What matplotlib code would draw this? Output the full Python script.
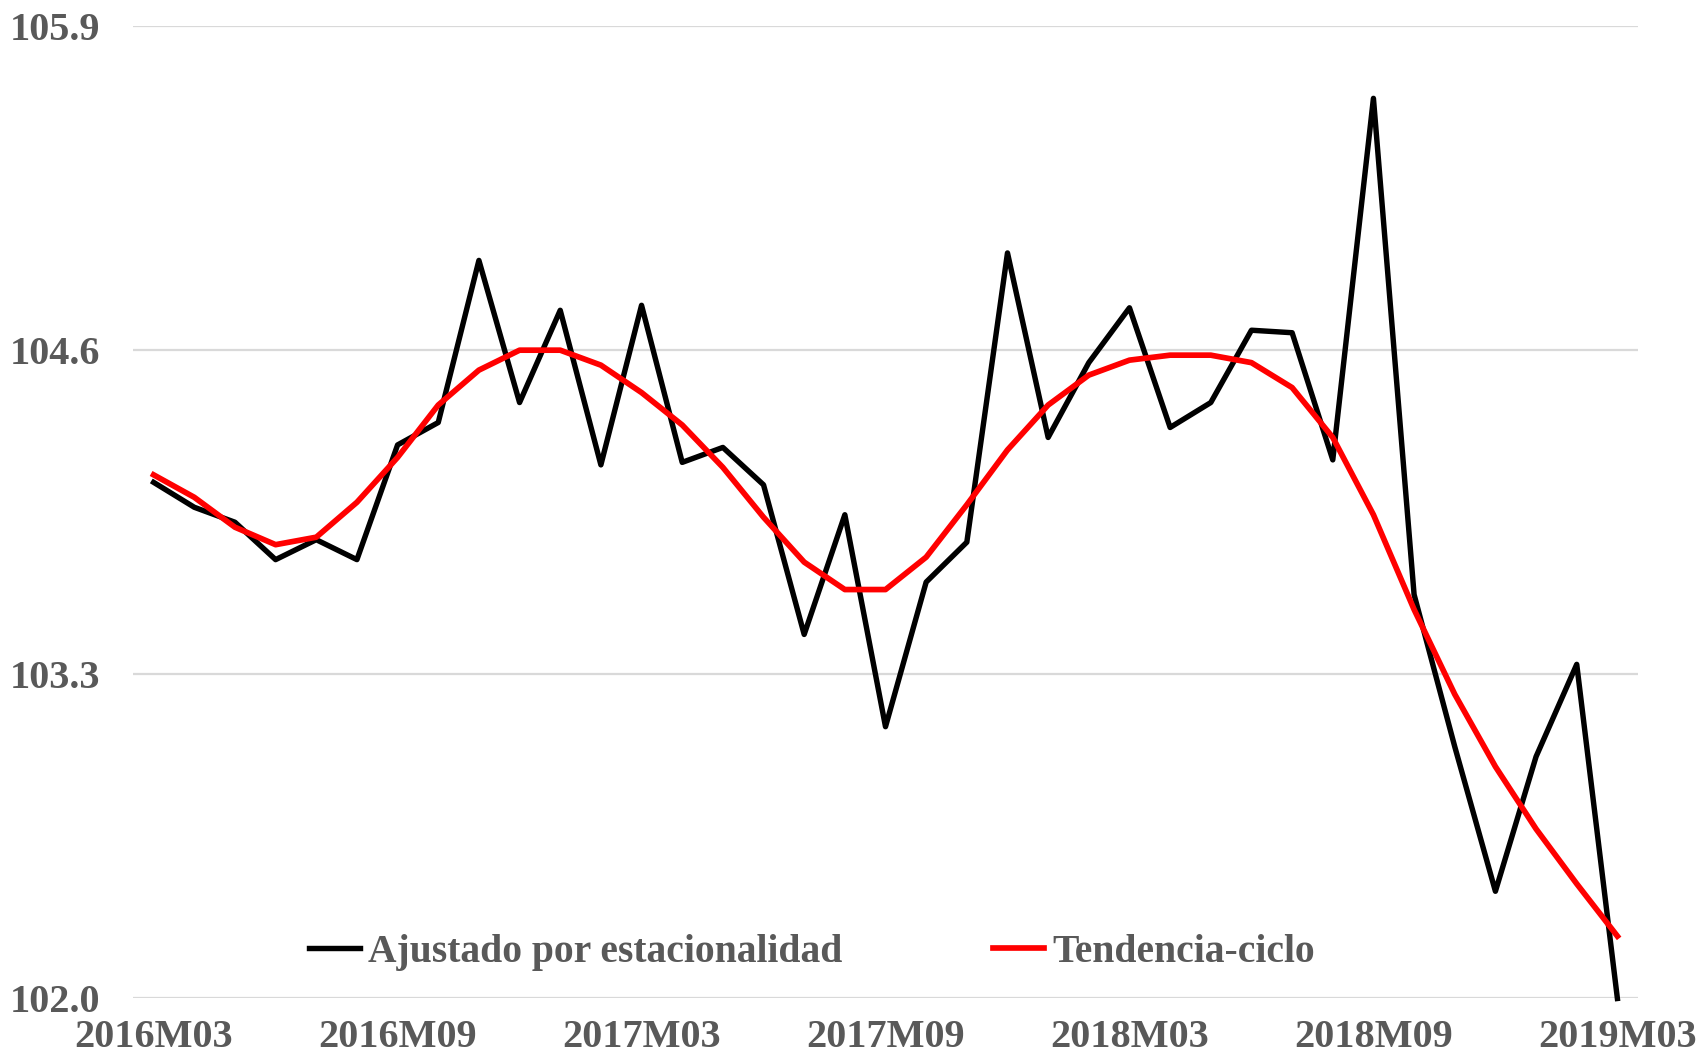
import matplotlib.pyplot as plt

months = ['2016M03', '2016M04', '2016M05', '2016M06', '2016M07', '2016M08',
          '2016M09', '2016M10', '2016M11', '2016M12', '2017M01', '2017M02',
          '2017M03', '2017M04', '2017M05', '2017M06', '2017M07', '2017M08',
          '2017M09', '2017M10', '2017M11', '2017M12', '2018M01', '2018M02',
          '2018M03', '2018M04', '2018M05', '2018M06', '2018M07', '2018M08',
          '2018M09', '2018M10', '2018M11', '2018M12', '2019M01', '2019M02',
          '2019M03']

ajustado = [104.07, 103.97, 103.91, 103.76, 103.84, 103.76, 104.22, 104.31,
            104.96, 104.39, 104.76, 104.14, 104.78, 104.15, 104.21, 104.06,
            103.46, 103.94, 103.09, 103.67, 103.83, 104.99, 104.25, 104.55,
            104.77, 104.29, 104.39, 104.68, 104.67, 104.16, 105.61, 103.62,
            103.01, 102.43, 102.97, 103.34, 102.00]

tendencia = [104.10, 104.01, 103.89, 103.82, 103.85, 103.99, 104.17, 104.38,
             104.52, 104.60, 104.60, 104.54, 104.43, 104.30, 104.13, 103.93,
             103.75, 103.64, 103.64, 103.77, 103.98, 104.20, 104.38, 104.50,
             104.56, 104.58, 104.58, 104.55, 104.45, 104.25, 103.94, 103.56,
             103.22, 102.93, 102.68, 102.46, 102.25]

y_ticks = [102.0, 103.3, 104.6, 105.9]
label_every = 6

gray = '#595959'
plt.rcParams['font.family'] = ['Liberation Serif', 'DejaVu Serif']
plt.rcParams['font.weight'] = 'bold'

fig = plt.figure(figsize=(16.98, 10.62), dpi=100)
ax = fig.add_axes([0.0785, 0.0598, 0.886, 0.9157])

x = list(range(len(months)))
ax.plot(x, ajustado, color='black', lw=3.9, label='Ajustado por estacionalidad',
        clip_on=False, zorder=3)
ax.plot(x, tendencia, color='#ff0000', lw=4.1, label='Tendencia-ciclo', zorder=4)

ax.set_xlim(-0.5, len(months) - 0.5)
ax.set_ylim(102.0, 105.9)
ax.set_yticks(y_ticks)
ax.set_yticklabels(['%.1f' % v for v in y_ticks])
ax.set_xticks(x[::label_every])
ax.set_xticklabels(months[::label_every])

ax.grid(axis='y', color='#d9d9d9', lw=1.6)
ax.set_axisbelow(True)
for s in ax.spines.values():
    s.set_visible(False)
ax.tick_params(axis='both', length=0, labelsize=29, labelcolor=gray)
ax.tick_params(axis='y', pad=24)
ax.tick_params(axis='x', pad=15)

leg = ax.legend(loc='center', bbox_to_anchor=(0.451, 0.047), ncol=2, frameon=False,
                fontsize=28.5, handlelength=1.3, handletextpad=0.2, columnspacing=3.8)
for t in leg.get_texts():
    t.set_color(gray)

fig.savefig('out.png', dpi=100)
